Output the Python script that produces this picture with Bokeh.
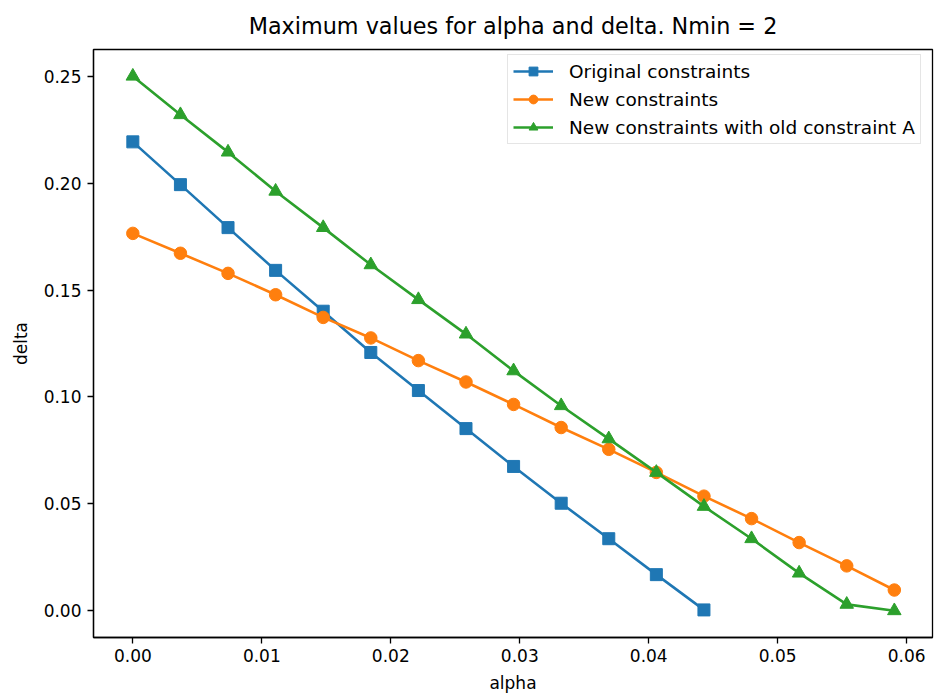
from bokeh.plotting import figure
from bokeh.models import Range1d, FixedTicker, NumeralTickFormatter, Legend, LegendItem
from bokeh.embed import file_html
from bokeh.resources import INLINE

alpha = [0.0, 0.00369, 0.00738, 0.01107, 0.01476, 0.01845, 0.02214, 0.02583, 0.02952,
         0.03321, 0.0369, 0.04059, 0.04428, 0.04797, 0.05166, 0.05535, 0.05904]

orig_delta = [0.2193, 0.1993, 0.1792, 0.1592, 0.1401, 0.1208, 0.1030, 0.0852, 0.0675,
              0.0503, 0.0337, 0.0169, 0.0004]
new_delta = [0.1765, 0.1672, 0.1578, 0.1478, 0.1372, 0.1276, 0.1170, 0.1070, 0.0965,
             0.0857, 0.0755, 0.0647, 0.0536, 0.0431, 0.0319, 0.0210, 0.0097]
newA_delta = [0.2500, 0.2320, 0.2145, 0.1962, 0.1792, 0.1618, 0.1455, 0.1294, 0.1122,
              0.0959, 0.0804, 0.0647, 0.0488, 0.0337, 0.0176, 0.0030, 0.0000]

labels = ["Original constraints", "New constraints", "New constraints with old constraint A"]
x_ticks = [0.0, 0.01, 0.02, 0.03, 0.04, 0.05, 0.06]
y_ticks = [0.0, 0.05, 0.10, 0.15, 0.20, 0.25]

FONT = "DejaVu Sans"
C1, C2, C3 = "#1f77b4", "#ff7f0e", "#2ca02c"

p = figure(width=934, height=697, output_backend="svg", toolbar_location=None,
           x_range=Range1d(-0.00305, 0.0620), y_range=Range1d(-0.0125, 0.2625),
           min_border_left=93, min_border_right=2, min_border_top=45, min_border_bottom=60,
           title="Maximum values for alpha and delta. Nmin = 2")

p.title.text_font = FONT
p.title.text_font_size = "22.3px"
p.title.text_font_style = "normal"
p.title.align = "center"
p.title.text_color = "#000000"
p.title.standoff = 21

p.xgrid.visible = False
p.ygrid.visible = False
p.outline_line_color = "#000000"
p.outline_line_width = 1.3

for ax in (p.xaxis[0], p.yaxis[0]):
    ax.major_label_text_font = FONT
    ax.major_label_text_font_size = "17px"
    ax.major_label_text_color = "#000000"
    ax.axis_label_text_font = FONT
    ax.axis_label_text_font_size = "17px"
    ax.axis_label_text_font_style = "normal"
    ax.axis_label_text_color = "#000000"
    ax.major_tick_out = 6
    ax.major_tick_in = 0
    ax.minor_tick_out = 0
    ax.minor_tick_in = 0
    ax.axis_line_color = "#000000"
    ax.axis_line_width = 1.3
    ax.major_tick_line_width = 1.3
    ax.formatter = NumeralTickFormatter(format="0.00")

p.xaxis.ticker = FixedTicker(ticks=x_ticks)
p.yaxis.ticker = FixedTicker(ticks=y_ticks)
p.xaxis.axis_label = "alpha"
p.yaxis.axis_label = "delta"
p.xaxis.major_label_standoff = 5
p.yaxis.major_label_standoff = 6
p.xaxis.axis_label_standoff = 8
p.yaxis.axis_label_standoff = 10

n1 = len(orig_delta)
l1 = p.line(alpha[:n1], orig_delta, line_color=C1, line_width=2.6)
m1 = p.scatter(alpha[:n1], orig_delta, marker="square", size=12, fill_color=C1, line_color=C1)
l2 = p.line(alpha, new_delta, line_color=C2, line_width=2.6)
m2 = p.scatter(alpha, new_delta, marker="circle", size=12.5, fill_color=C2, line_color=C2)
l3 = p.line(alpha, newA_delta, line_color=C3, line_width=2.6)
m3 = p.scatter(alpha, newA_delta, marker="triangle", size=13.5, fill_color=C3, line_color=C3)

legend = Legend(items=[LegendItem(label=labels[0], renderers=[l1, m1]),
                       LegendItem(label=labels[1], renderers=[l2, m2]),
                       LegendItem(label=labels[2], renderers=[l3, m3])],
                location=(414, 493))
legend.margin = 0
legend.padding = 5
legend.spacing = 6
legend.glyph_width = 40
legend.glyph_height = 22
legend.label_height = 22
legend.label_standoff = 16
legend.label_text_font = FONT
legend.label_text_font_size = "18.5px"
legend.label_text_color = "#000000"
legend.border_line_color = "#cccccc"
legend.border_line_width = 1.2
legend.background_fill_alpha = 0.8
p.add_layout(legend, "center")

open("out.html", "w").write(file_html(p, INLINE))
